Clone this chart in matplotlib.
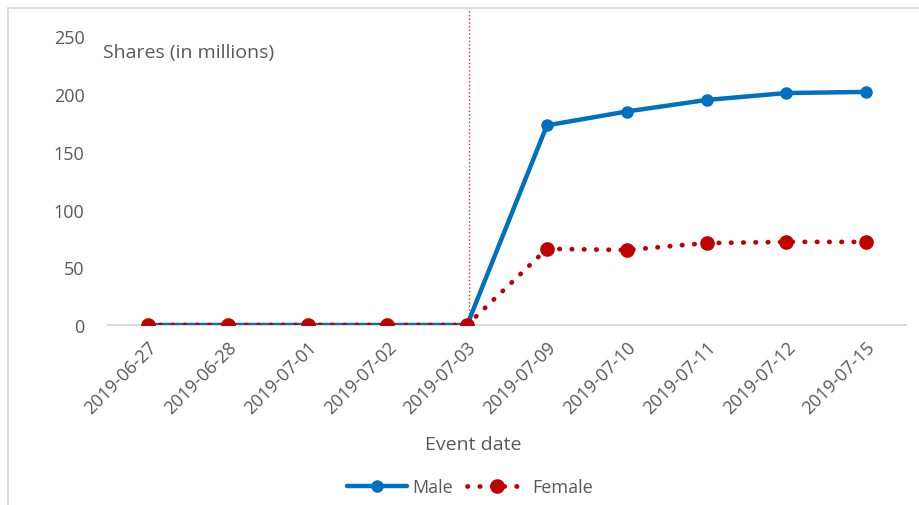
import matplotlib.pyplot as plt
from matplotlib.patches import Rectangle

dates = ['2019-06-27', '2019-06-28', '2019-07-01', '2019-07-02', '2019-07-03',
         '2019-07-09', '2019-07-10', '2019-07-11', '2019-07-12', '2019-07-15']
male = [0, 0, 0, 0, 0, 173, 185, 195, 201, 202]
female = [0, 0, 0, 0, 0, 66, 65, 71, 72, 72]
event_index = 4

plt.rcParams['font.family'] = ['Open Sans', 'DejaVu Sans']
grey = '#595959'

fig = plt.figure(figsize=(9.2, 5.06), dpi=100)
ax = fig.add_axes([108 / 920, (506 - 326) / 506, 798 / 920, 288.5 / 506])
x = list(range(len(dates)))

ax.plot(x, male, color='#0070C0', lw=3.2, marker='o', ms=8, label='Male',
        solid_capstyle='round', zorder=3)
ax.plot(x, female, color='#C00000', lw=3.4, ls=(0, (0.1, 2.5)), marker='o', ms=9.5,
        dash_capstyle='round', label='Female', zorder=4)

# event marker line, runs up to the chart border
ax.plot([event_index + 0.03, event_index + 0.03], [0, 274.5], color='#C00000',
        lw=1, ls=':', alpha=0.8, clip_on=False, zorder=2)

ax.set_xlim(-0.5, len(dates) - 0.5)
ax.set_ylim(0, 250)
ax.set_yticks([0, 50, 100, 150, 200, 250])
ax.set_xticks(x)
ax.set_xticklabels(dates, rotation=45, ha='right', rotation_mode='anchor')
ax.tick_params(axis='both', length=0, labelsize=13, colors=grey)
ax.tick_params(axis='x', pad=9)
ax.tick_params(axis='y', pad=17)
for s in ['top', 'right', 'left']:
    ax.spines[s].set_visible(False)
ax.spines['bottom'].set_color('#D9D9D9')
ax.spines['bottom'].set_linewidth(1.3)
ax.spines['bottom'].set_zorder(1)

fig.text(103 / 920, 1 - 53 / 506, 'Shares (in millions)', fontsize=14, color=grey,
         va='center', ha='left')
fig.text(473 / 920, 1 - 445 / 506, 'Event date', fontsize=14, color=grey,
         ha='center', va='center')

fig.legend(loc='center', bbox_to_anchor=(470 / 920, 1 - 488 / 506), ncol=2,
           frameon=False, fontsize=13, labelcolor=grey, handlelength=3.3,
           columnspacing=0.8, handletextpad=0.3)

# chart border
fig.patches.append(Rectangle((8 / 920, -0.1), 1.2, 1 - 9 / 506 + 0.1,
                             transform=fig.transFigure, fill=False,
                             edgecolor='#D9D9D9', lw=1.3))

fig.savefig('out.png', dpi=100)
